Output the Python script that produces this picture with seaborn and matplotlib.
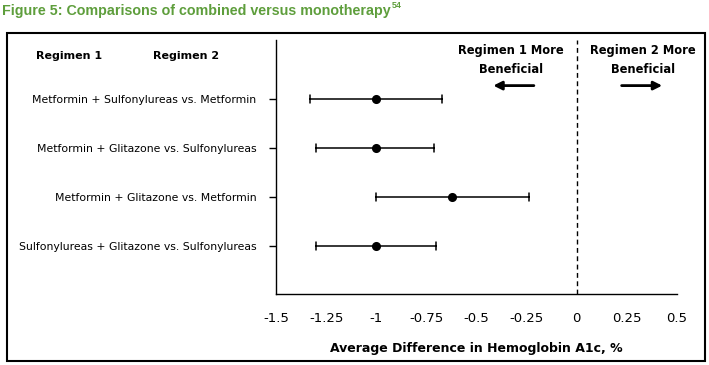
import matplotlib
matplotlib.use("Agg")
import matplotlib.pyplot as plt
from matplotlib.patches import Rectangle
import seaborn as sns
import pandas as pd

comparisons = [
    "Metformin + Sulfonylureas vs. Metformin",
    "Metformin + Glitazone vs. Sulfonylureas",
    "Metformin + Glitazone vs. Metformin",
    "Sulfonylureas + Glitazone vs. Sulfonylureas",
]
diff_mean = [-1.0, -1.0, -0.62, -1.0]
diff_low = [-1.33, -1.30, -1.0, -1.30]
diff_high = [-0.67, -0.71, -0.24, -0.70]
x_ticks = [-1.5, -1.25, -1, -0.75, -0.5, -0.25, 0, 0.25, 0.5]
x_tick_labels = ["-1.5", "-1.25", "-1", "-0.75", "-0.5", "-0.25", "0", "0.25", "0.5"]

# long form: low / mean / high per row, median gives the point, min/max the interval
rows = []
for name, lo, m, hi in zip(comparisons, diff_low, diff_mean, diff_high):
    for v in (lo, m, hi):
        rows.append({"comparison": name, "diff": v})
df = pd.DataFrame(rows)

sns.set_style("white")
plt.rcParams["font.family"] = ["DejaVu Sans"]
plt.rcParams["text.color"] = "black"
plt.rcParams["xtick.color"] = "black"
plt.rcParams["ytick.color"] = "black"
plt.rcParams["axes.labelcolor"] = "black"

fig = plt.figure(figsize=(7.09, 3.65), dpi=100)
ax = fig.add_axes([276 / 709, 1 - 294 / 365, 401 / 709, 254 / 365])

sns.pointplot(
    data=df, x="diff", y="comparison", order=comparisons,
    estimator="median", errorbar=lambda v: (v.min(), v.max()),
    linestyle="none", color="black", markers="o", markersize=4.5,
    capsize=0.17, err_kws={"linewidth": 1.1}, ax=ax,
)

ax.axvline(0, color="black", linestyle=(0, (3.5, 2.5)), linewidth=1)

ax.set_xlim(-1.5, 0.5)
ax.set_ylim(3.98, -1.2)
ax.set_xticks(x_ticks)
ax.set_xticklabels(x_tick_labels, fontsize=9.5)
ax.tick_params(axis="x", direction="in", length=4, width=1, pad=13)
ax.tick_params(axis="y", direction="out", length=5, width=1, pad=9, labelsize=7.8, left=True)
ax.set_ylabel("")
ax.set_xlabel("Average Difference in Hemoglobin A1c, %", fontsize=9,
              fontweight="bold", labelpad=12)

for side in ["top", "right"]:
    ax.spines[side].set_visible(False)
for side in ["left", "bottom"]:
    ax.spines[side].set_color("black")
    ax.spines[side].set_linewidth(1)

# headers
fig.text(36 / 709, 1 - 56 / 365, "Regimen 1", fontsize=8, fontweight="bold", va="center")
fig.text(153 / 709, 1 - 56 / 365, "Regimen 2", fontsize=8, fontweight="bold", va="center")

ax.text(-0.33, -0.99, "Regimen 1 More", ha="center", va="center", fontsize=8.3, fontweight="bold")
ax.text(-0.33, -0.59, "Beneficial", ha="center", va="center", fontsize=8.3, fontweight="bold")
ax.text(0.33, -0.99, "Regimen 2 More", ha="center", va="center", fontsize=8.3, fontweight="bold")
ax.text(0.33, -0.59, "Beneficial", ha="center", va="center", fontsize=8.3, fontweight="bold")
ax.annotate("", xy=(-0.43, -0.27), xytext=(-0.2, -0.27),
            arrowprops=dict(arrowstyle="-|>,head_length=0.5,head_width=0.25", color="black", lw=2))
ax.annotate("", xy=(0.44, -0.27), xytext=(0.21, -0.27),
            arrowprops=dict(arrowstyle="-|>,head_length=0.5,head_width=0.25", color="black", lw=2))

# outer frame
fig.patches.append(Rectangle((7 / 709, 1 - 361 / 365), 698 / 709, 328 / 365,
                             transform=fig.transFigure, fill=False,
                             edgecolor="black", linewidth=1.5))

green = "#5e9e3c"
title = fig.text(2 / 709, 1 - 11 / 365, "Figure 5: Comparisons of combined versus monotherapy",
                 fontsize=10.3, fontweight="bold", color=green, va="center",
                 family=["Liberation Sans"])
fig.canvas.draw()
bb = title.get_window_extent(renderer=fig.canvas.get_renderer())
fig.text(bb.x1 / 709 + 1 / 709, 1 - 5 / 365, "54", fontsize=6.5, fontweight="bold", color=green,
         va="center", family=["Liberation Sans"])

fig.savefig("out.png", dpi=100)
